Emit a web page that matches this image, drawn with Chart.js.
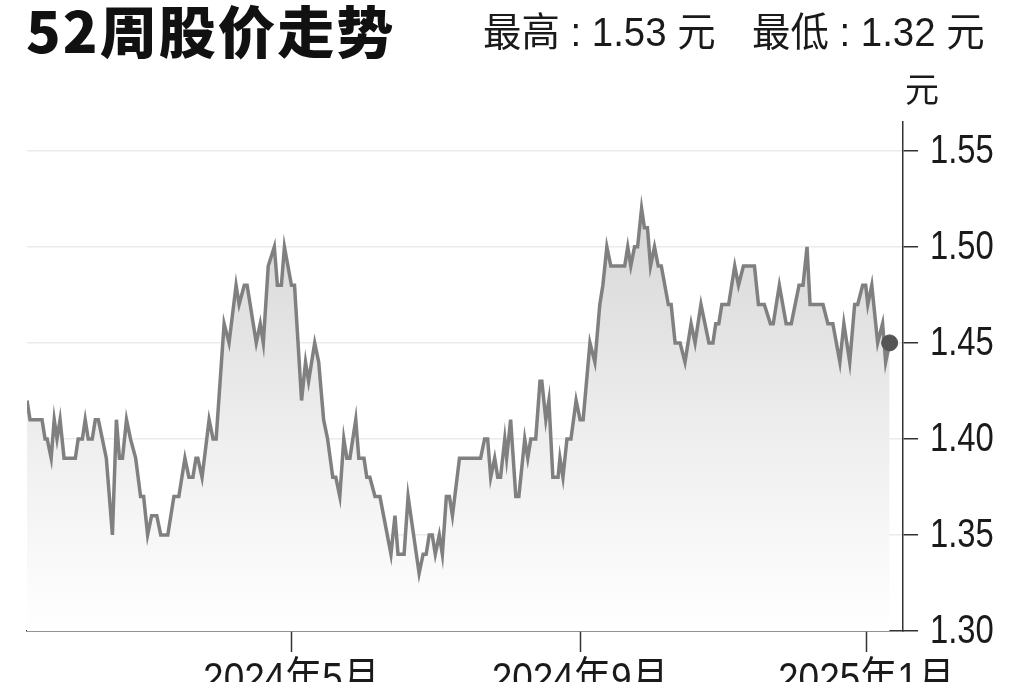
<!DOCTYPE html>
<html>
<head>
<meta charset="utf-8">
<script src="https://cdn.jsdelivr.net/npm/chart.js@4/dist/chart.umd.min.js"></script>
<style>
  html, body { margin: 0; padding: 0; background: #fff; }
  #wrap { position: relative; width: 1024px; height: 682px; overflow: hidden; }
  #chart { position: absolute; left: 0; top: 0; }
  .txt { position: absolute; white-space: nowrap; color: #1a1a1a; transform-origin: 0 0;
         font-family: "Liberation Sans", "Noto Sans CJK SC", sans-serif; }
  #title { left: 26px; top: -12px; font-size: 56px; font-weight: 900; color: #111;
           font-family: "Noto Sans CJK SC", sans-serif; letter-spacing: 2px; transform: scaleX(1.02); }
  #hi    { left: 483px; top: 0px; font-size: 40px; transform: scaleX(0.96); }
  #lo    { left: 752px; top: 0px; font-size: 40px; transform: scaleX(0.96); }
  #unit  { left: 905px; top: 63px; font-size: 34px; font-family: "Noto Sans CJK SC", sans-serif; }
</style>
</head>
<body>
<div id="wrap">
  <canvas id="chart" width="1024" height="682"></canvas>
  <div class="txt" id="title">52周股价走势</div>
  <div class="txt" id="hi">最高 : 1.53 元</div>
  <div class="txt" id="lo">最低 : 1.32 元</div>
  <div class="txt" id="unit">元</div>
</div>
<script>
'use strict';

// ---- Data ---------------------------------------------------------------
// x = days since 2024-01-01, read off the turning points of the line.
const days = [
  8.3, 9.6, 14.7, 16.0, 16.9, 18.6, 19.9, 21.1, 22.4, 24.1,
  28.9, 30.1, 31.9, 33.1, 34.4, 36.1, 37.4, 38.7, 40.4, 42.1,
  44.7, 46.4, 47.7, 49.0, 50.7, 52.4, 54.6, 56.7, 58.0, 59.7,
  61.4, 63.6, 65.3, 68.3, 70.9, 73.0, 75.6, 77.3, 79.0, 80.3,
  81.1, 82.9, 85.9, 87.6, 88.9, 92.3, 94.4, 97.4, 98.7, 100.9,
  102.1, 106.0, 107.7, 109.0, 111.1, 113.7, 115.0, 116.7, 118.0, 121.0,
  122.3, 125.3, 127.0, 128.3, 130.9, 132.6, 134.7, 136.4, 138.6, 139.9,
  141.6, 143.3, 144.6, 145.9, 148.4, 149.7, 151.9, 153.1, 154.4, 156.6,
  158.7, 163.4, 165.1, 166.4, 169.0, 170.7, 175.4, 177.1, 178.4, 179.7,
  181.0, 182.3, 184.0, 185.3, 187.0, 188.3, 189.6, 192.6, 201.6, 203.3,
  204.6, 205.9, 207.6, 208.9, 210.1, 211.9, 212.7, 214.4, 216.6, 217.9,
  220.4, 221.7, 223.0, 225.1, 226.9, 227.7, 229.4, 230.7, 232.4, 234.6,
  235.4, 236.7, 238.4, 240.1, 242.3, 244.0, 245.3, 248.2, 250.3, 252.4,
  253.7, 255.4, 257.1, 263.0, 264.3, 265.6, 267.2, 268.5, 270.2, 271.4,
  272.7, 274.0, 275.7, 277.3, 278.6, 281.6, 282.8, 284.5, 286.6, 288.7,
  291.3, 293.0, 295.5, 298.9, 300.6, 301.8, 303.1, 304.4, 307.3, 309.9,
  311.5, 313.6, 318.3, 320.0, 322.5, 325.1, 326.3, 328.9, 331.8, 334.0,
  337.3, 339.0, 340.7, 342.0, 347.5, 349.6, 351.7, 354.7, 356.4, 358.9,
  361.0, 362.3, 364.4, 365.7, 366.6, 368.3, 370.8, 372.9, 374.2, 375.9
];

const prices = [
  1.42, 1.41, 1.41, 1.40, 1.40, 1.39, 1.41, 1.40, 1.41, 1.39,
  1.39, 1.40, 1.40, 1.41, 1.40, 1.40, 1.41, 1.41, 1.40, 1.39,
  1.35, 1.41, 1.39, 1.39, 1.41, 1.40, 1.39, 1.37, 1.37, 1.35,
  1.36, 1.36, 1.35, 1.35, 1.37, 1.37, 1.39, 1.38, 1.38, 1.39,
  1.39, 1.38, 1.41, 1.40, 1.40, 1.46, 1.45, 1.48, 1.47, 1.48,
  1.48, 1.45, 1.46, 1.45, 1.49, 1.50, 1.48, 1.48, 1.50, 1.48,
  1.48, 1.42, 1.44, 1.43, 1.45, 1.44, 1.41, 1.40, 1.38, 1.38,
  1.37, 1.40, 1.39, 1.39, 1.41, 1.39, 1.39, 1.38, 1.38, 1.37,
  1.37, 1.34, 1.36, 1.34, 1.34, 1.37, 1.33, 1.34, 1.34, 1.35,
  1.35, 1.34, 1.35, 1.34, 1.37, 1.37, 1.36, 1.39, 1.39, 1.40,
  1.40, 1.38, 1.39, 1.38, 1.38, 1.40, 1.39, 1.41, 1.37, 1.37,
  1.40, 1.39, 1.40, 1.40, 1.43, 1.43, 1.41, 1.42, 1.38, 1.38,
  1.39, 1.38, 1.40, 1.40, 1.42, 1.41, 1.41, 1.45, 1.44, 1.47,
  1.48, 1.50, 1.49, 1.49, 1.50, 1.49, 1.50, 1.50, 1.52, 1.51,
  1.51, 1.49, 1.50, 1.49, 1.49, 1.47, 1.47, 1.45, 1.45, 1.44,
  1.46, 1.45, 1.47, 1.45, 1.45, 1.46, 1.46, 1.47, 1.47, 1.49,
  1.48, 1.49, 1.49, 1.47, 1.47, 1.46, 1.46, 1.48, 1.46, 1.46,
  1.48, 1.48, 1.50, 1.47, 1.47, 1.46, 1.46, 1.44, 1.46, 1.44,
  1.47, 1.47, 1.48, 1.48, 1.47, 1.48, 1.45, 1.46, 1.44, 1.45
];

const xTickDays   = [121, 244, 366];            // 2024-05-01, 2024-09-01, 2025-01-01
const xTickLabels = ['2024年5月', '2024年9月', '2025年1月'];
const yTicks      = [1.30, 1.35, 1.40, 1.45, 1.50, 1.55];
const xRange      = [8.3, 381.6];
const yRange      = [1.30, 1.565];

// ---- Chart --------------------------------------------------------------
Chart.defaults.font.family = '"Liberation Sans", "Noto Sans CJK SC", sans-serif';
Chart.defaults.color = '#1a1a1a';

const points = days.map(function (d, i) { return { x: d, y: prices[i] }; });
const lastIdx = points.length - 1;

function fillGradient(ctx) {
  const area = ctx.chart.chartArea;
  if (!area) return 'rgba(0,0,0,0)';
  const g = ctx.chart.ctx.createLinearGradient(0, area.top + 70, 0, area.bottom);
  g.addColorStop(0, '#d5d5d5');
  g.addColorStop(0.55, '#eeeeee');
  g.addColorStop(1, '#ffffff');
  return g;
}

// The print font is a narrow grotesque; draw the axis labels with the
// scale's own ticks, squeezed horizontally to match.
const narrowLabels = {
  id: 'narrowLabels',
  afterDraw: function (chart) {
    const ctx = chart.ctx;
    const xs = chart.scales.x;
    const ys = chart.scales.y;
    ctx.save();
    ctx.fillStyle = '#1a1a1a';

    ctx.font = '40px "Liberation Sans", "Noto Sans CJK SC", sans-serif';
    ctx.textAlign = 'left';
    ctx.textBaseline = 'middle';
    ys.ticks.forEach(function (t) {
      ctx.save();
      ctx.translate(ys.left + 27, ys.getPixelForValue(t.value) + 1);
      ctx.scale(0.82, 1);
      ctx.fillText(t.label, 0, 0);
      ctx.restore();
    });

    ctx.font = '42px "Liberation Sans", "Noto Sans CJK SC", sans-serif';
    ctx.textAlign = 'center';
    ctx.textBaseline = 'top';
    xs.ticks.forEach(function (t) {
      ctx.save();
      ctx.translate(xs.getPixelForValue(t.value), xs.top + 28);
      ctx.scale(0.88, 1);
      ctx.fillText(t.label, 0, 0);
      ctx.restore();
    });
    ctx.restore();
  }
};

new Chart(document.getElementById('chart'), {
  type: 'line',
  data: {
    datasets: [{
      data: points,
      borderColor: '#808080',
      borderWidth: 3.5,
      backgroundColor: fillGradient,
      fill: 'start',
      tension: 0,
      pointRadius: function (c) { return c.dataIndex === lastIdx ? 8 : 0; },
      pointBackgroundColor: '#555555',
      pointBorderColor: '#555555',
      pointBorderWidth: 1
    }]
  },
  options: {
    responsive: false,
    animation: false,
    events: [],
    layout: { padding: { left: 27, top: 122, right: 0, bottom: 0 } },
    plugins: { legend: { display: false }, tooltip: { enabled: false } },
    scales: {
      x: {
        type: 'linear',
        min: xRange[0],
        max: xRange[1],
        afterBuildTicks: function (s) { s.ticks = xTickDays.map(function (v) { return { value: v }; }); },
        afterFit: function (s) { s.height = 51; },
        grid: { drawOnChartArea: false, drawTicks: true, tickLength: 21, tickColor: '#333', tickWidth: 1.5 },
        border: { color: '#333', width: 1.5 },
        ticks: {
          color: 'transparent',
          maxRotation: 0,
          font: { size: 40 },
          callback: function (v) { const i = xTickDays.indexOf(v); return i >= 0 ? xTickLabels[i] : ''; }
        }
      },
      y: {
        position: 'right',
        min: yRange[0],
        max: yRange[1],
        afterBuildTicks: function (s) { s.ticks = yTicks.map(function (v) { return { value: v }; }); },
        afterFit: function (s) { s.width = 121; },
        grid: { color: '#ebebeb', lineWidth: 1.5, tickLength: 15, tickColor: '#333', tickWidth: 1.5 },
        border: { color: '#333', width: 1.5 },
        ticks: {
          color: 'transparent',
          font: { size: 40 },
          callback: function (v) { return v.toFixed(2); }
        }
      }
    }
  },
  plugins: [narrowLabels]
});
</script>
</body>
</html>
